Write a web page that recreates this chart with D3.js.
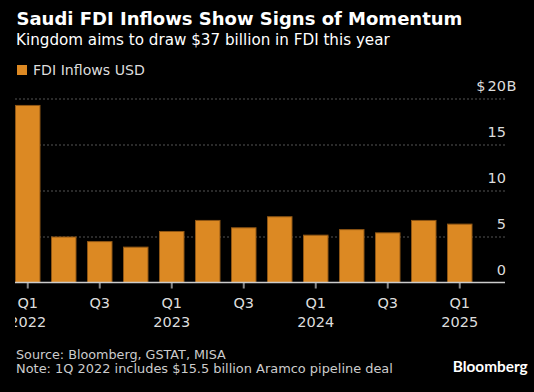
<!DOCTYPE html>
<html>
<head>
<meta charset="utf-8">
<script src="https://cdn.jsdelivr.net/npm/d3@7"></script>
<style>
  html, body { margin: 0; padding: 0; background: #000; }
  svg { display: block; }
</style>
</head>
<body>
<svg id="chart" width="534" height="392"></svg>
<script>
// ---- data ----
const quarters = ["Q1 2022","Q2 2022","Q3 2022","Q4 2022","Q1 2023","Q2 2023","Q3 2023","Q4 2023","Q1 2024","Q2 2024","Q3 2024","Q4 2024","Q1 2025"];
const fdiInflows = [19.3, 5.0, 4.5, 3.9, 5.6, 6.8, 6.0, 7.2, 5.2, 5.8, 5.45, 6.8, 6.4];
const yTicks = [0, 5, 10, 15, 20];
const xTickLabels = ["Q1|2022", "", "Q3|", "", "Q1|2023", "", "Q3|", "", "Q1|2024", "", "Q3|", "", "Q1|2025"];

const title = "Saudi FDI Inflows Show Signs of Momentum";
const subtitle = "Kingdom aims to draw $37 billion in FDI this year";
const legendLabel = "FDI Inflows USD";
const sourceLine = "Source: Bloomberg, GSTAT, MISA";
const noteLine = "Note: 1Q 2022 includes $15.5 billion Aramco pipeline deal";

const svg = d3.select("#chart");
const textFont = "'DejaVu Sans', Verdana, sans-serif";

// fit a text element's font size so that it spans the given width
function fitWidth(sel, width) {
  const base = +sel.attr("font-size");
  const w = sel.node().getComputedTextLength();
  if (w > 0) sel.attr("font-size", (base * width / w).toFixed(2));
  return sel;
}

const plotLeft = 15, plotRight = 505, y0 = 282.5, yTop = 98.5;

const x = d3.scaleBand().domain(quarters).range([15, 472.5]).paddingInner(0.2917).paddingOuter(0);
const y = d3.scaleLinear().domain([0, 20]).range([y0, yTop]);

// title etc
fitWidth(svg.append("text").attr("x", 16.5).attr("y", 25).text(title)
  .attr("fill", "#fff").attr("font-family", "'DejaVu Sans', Verdana, sans-serif")
  .attr("font-weight", "bold").attr("font-size", 18), 446);
fitWidth(svg.append("text").attr("x", 16).attr("y", 45).text(subtitle)
  .attr("fill", "#fff").attr("font-family", textFont).attr("font-size", 16), 374);

// legend
svg.append("rect").attr("x", 17).attr("y", 65).attr("width", 10).attr("height", 10).attr("fill", "#dc8923");
fitWidth(svg.append("text").attr("x", 33).attr("y", 75).text(legendLabel)
  .attr("fill", "#ddd").attr("font-family", textFont).attr("font-size", 14), 112);

// gridlines
const grid = svg.append("g");
grid.selectAll("line").data(yTicks.filter(d => d > 0)).join("line")
  .attr("x1", plotLeft).attr("x2", plotRight)
  .attr("y1", d => y(d) + 0.5).attr("y2", d => y(d) + 0.5)
  .attr("stroke", "#555").attr("stroke-width", 1.2).attr("stroke-dasharray", "2,2");

// y labels
const tickSize = 14.5;
const ylab = svg.append("g");
yTicks.forEach(t => {
  const tt = ylab.append("text").attr("x", 506).attr("y", y(t) - 8).attr("text-anchor", "end")
    .attr("fill", "#ddd").attr("font-family", textFont).attr("font-size", tickSize).text(t);
  if (t === 20) {
    const w = tt.node().getComputedTextLength();
    ylab.append("text").attr("x", 506 - w - 2).attr("y", y(t) - 8).attr("text-anchor", "end")
      .attr("fill", "#ddd").attr("font-family", textFont).attr("font-size", tickSize).text("$");
    ylab.append("text").attr("x", 506.5).attr("y", y(t) - 8)
      .attr("fill", "#ddd").attr("font-family", textFont).attr("font-size", tickSize).text("B");
  }
});

// bars
svg.append("g").selectAll("rect").data(fdiInflows).join("rect")
  .attr("x", (d, i) => x(quarters[i]) + 0.5)
  .attr("y", d => y(d) + 0.5)
  .attr("width", x.bandwidth() - 1)
  .attr("height", d => y0 - y(d) - 0.5)
  .attr("fill", "#dc8923").attr("stroke", "#8f5614").attr("stroke-width", 1);

// x axis
const xAxis = d3.axisBottom(x).tickSizeOuter(0).tickSize(6)
  .tickValues(quarters.filter((q, i) => i % 2 === 0)).tickFormat("");
const gx = svg.append("g").attr("transform", `translate(0,${y0})`).call(xAxis);
gx.select(".domain").remove();
gx.selectAll(".tick line").attr("stroke", "#888").attr("stroke-width", 2);
svg.append("line").attr("x1", plotLeft).attr("x2", plotRight).attr("y1", y0).attr("y2", y0)
  .attr("stroke", "#ccc").attr("stroke-width", 1.5);

svg.append("clipPath").attr("id", "lblclip").append("rect")
  .attr("x", 15).attr("y", 285).attr("width", 519).attr("height", 60);
const xl = svg.append("g").attr("clip-path", "url(#lblclip)");
quarters.forEach((q, i) => {
  const lab = xTickLabels[i];
  if (!lab) return;
  const [l1, l2] = lab.split("|");
  const cx = x(q) + x.bandwidth() / 2;
  xl.append("text").attr("x", cx).attr("y", 308).attr("text-anchor", "middle")
    .attr("fill", "#ddd").attr("font-family", textFont).attr("font-size", tickSize).text(l1);
  if (l2) xl.append("text").attr("x", cx).attr("y", 327).attr("text-anchor", "middle")
    .attr("fill", "#ddd").attr("font-family", textFont).attr("font-size", tickSize).text(l2);
});

// footer
fitWidth(svg.append("text").attr("x", 16).attr("y", 358.5).text(sourceLine)
  .attr("fill", "#ccc").attr("font-family", textFont).attr("font-size", 14), 210);
fitWidth(svg.append("text").attr("x", 16).attr("y", 373).text(noteLine)
  .attr("fill", "#ccc").attr("font-family", textFont).attr("font-size", 14), 377);
fitWidth(svg.append("text").attr("x", 452.7).attr("y", 372).text("Bloomberg")
  .attr("fill", "#fff").attr("font-family", "Lato, sans-serif").attr("font-weight", "bold").attr("font-size", 15), 75);
</script>
</body>
</html>
